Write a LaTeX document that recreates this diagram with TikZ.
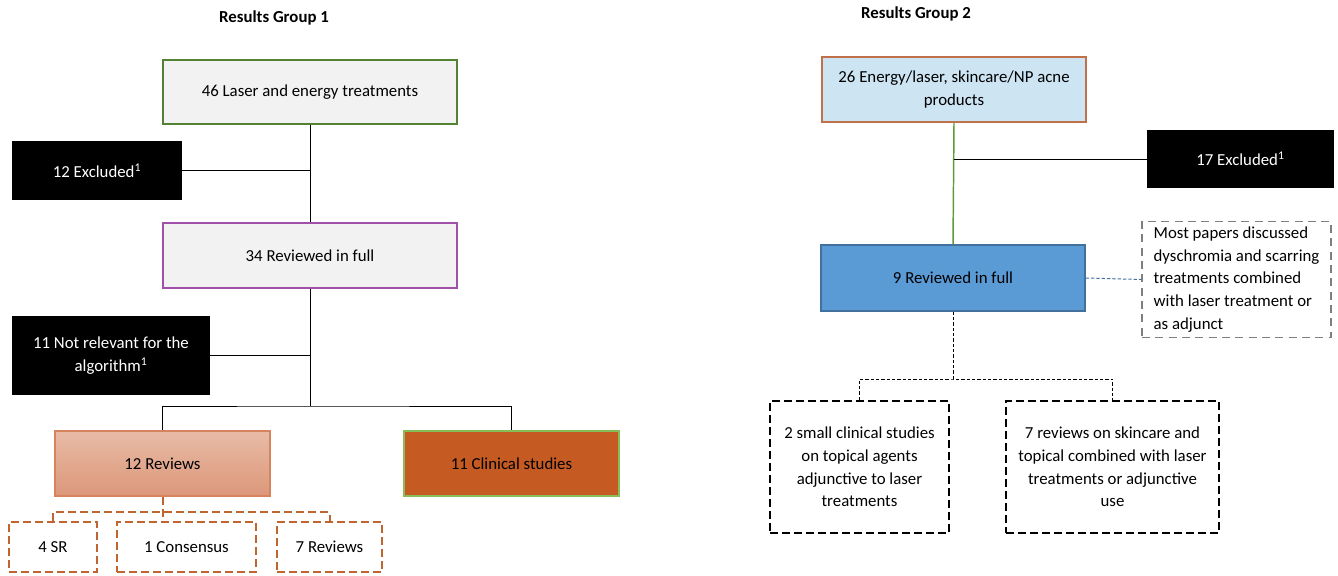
\documentclass[tikz,border=0pt]{standalone}
\usepackage{fontspec}
\setmainfont{Carlito}
\definecolor{gA}{HTML}{F2F2F2}
\definecolor{grnB}{HTML}{548235}
\definecolor{purB}{HTML}{A050A8}
\definecolor{revT}{HTML}{E8BBA6}
\definecolor{revB}{HTML}{DC977A}
\definecolor{revD}{HTML}{D7835E}
\definecolor{clinF}{HTML}{C55A22}
\definecolor{clinD}{HTML}{86BE5A}
\definecolor{lbF}{HTML}{CDE4F3}
\definecolor{lbD}{HTML}{C0714A}
\definecolor{dbF}{HTML}{5B9BD5}
\definecolor{dbD}{HTML}{41719C}
\definecolor{grnL}{HTML}{5E9A35}
\definecolor{orD}{HTML}{C0652F}
\definecolor{grayD}{HTML}{7F7F7F}
\begin{document}
\begin{tikzpicture}[x=0.75pt,y=-0.75pt,
  every node/.style={font=\fontsize{12.6}{17}\selectfont, inner sep=2pt},
  basebox/.style={draw, align=center, line width=0.9pt},
  blackbox/.style={basebox, fill=black, draw=black, text=white},
  orbox/.style={draw=orD, line width=1.5pt, dash pattern=on 6pt off 3pt, align=center, minimum height=37.5pt},
  bkbox/.style={draw=black, line width=1.5pt, dash pattern=on 6pt off 3pt, align=center, minimum height=99pt},
  conn/.style={draw=black, line width=0.75pt},
  orconn/.style={draw=orD, line width=1.5pt, dash pattern=on 6pt off 3pt},
  bkdash/.style={draw=black, line width=0.75pt, dash pattern=on 2.5pt off 1.5pt},
  title/.style={font=\fontsize{12.6}{17}\selectfont\bfseries}
]
\useasboundingbox (0,0) rectangle (1338,575);
% Titles
\node[title] (t1) at (274,18) {Results Group 1};
\node[title] (t2) at (916,14) {Results Group 2};
% Group 1
\node[basebox, fill=gA, draw=grnB, minimum width=220.5pt, minimum height=48pt] (A) at (310,92) {46 Laser and energy treatments};
\node[blackbox, minimum width=126pt, minimum height=42.75pt] (X1) at (97,170.5) {12 Excluded\textsuperscript{1}};
\node[basebox, fill=gA, draw=purB, minimum width=220.5pt, minimum height=48.75pt] (B) at (310,255.5) {34 Reviewed in full};
\node[blackbox, minimum width=147pt, minimum height=57.75pt] (X2) at (111,355.5) {11 Not relevant for the\\algorithm\textsuperscript{1}};
\node[basebox, top color=revT, bottom color=revB, draw=revD, minimum width=161.25pt, minimum height=48.75pt] (R) at (162.5,463.5) {12 Reviews};
\node[basebox, fill=clinF, draw=clinD, minimum width=161.25pt, minimum height=48.75pt] (C1) at (511.5,463.5) {11 Clinical studies};
\node[orbox, minimum width=66pt] (SR) at (53,547) {4 SR};
\node[orbox, minimum width=104.25pt] (CO) at (186.5,547) {1 Consensus};
\node[orbox, minimum width=78.75pt] (R7) at (329.5,547) {7 Reviews};
\coordinate (j1) at (310,406);
\draw[conn] (A.south) -- (B.north);
\draw[conn] (X1.east) -- (X1.east -| A.south);
\draw[conn] (B.south) -- (j1);
\draw[conn] (X2.east) -- (X2.east -| B.south);
\draw[conn] (R.north) |- (j1) -| (C1.north);
\draw[orconn] (R.south) -- (R.south |- CO.north);
\draw[orconn] (SR.north) -- ++(0,-9) -| (R7.north);
% Group 2
\node[basebox, fill=lbF, draw=lbD, line width=1.2pt, minimum width=198pt, minimum height=48.75pt] (C) at (954,89.5) {26 Energy/laser, skincare/NP acne\\products};
\node[blackbox, minimum width=138.75pt, minimum height=42pt] (X3) at (1240.5,159) {17 Excluded\textsuperscript{1}};
\node[basebox, fill=dbF, draw=dbD, minimum width=198pt, minimum height=49.5pt] (D) at (953,278) {9 Reviewed in full};
\node[draw=grayD, line width=1.1pt, dash pattern=on 6pt off 4pt, align=left, minimum width=141.75pt, minimum height=84.75pt, inner sep=4pt] (N) at (1236.5,279.5) {Most papers discussed\\dyschromia and scarring\\treatments combined\\with laser treatment or\\as adjunct};
\node[bkbox, minimum width=134.25pt] (E) at (859.5,467) {2 small clinical studies\\on topical agents\\adjunctive to laser\\treatments};
\node[bkbox, minimum width=159.75pt] (F) at (1112.5,467) {7 reviews on skincare and\\topical combined with laser\\treatments or adjunctive\\use};
\coordinate (j2) at (953,379);
\draw[draw=grnL, line width=1.1pt] (C.south) -- (D.north);
\draw[conn] (X3.west) -- (X3.west -| C.south);
\draw[draw=dbD, line width=0.75pt, dash pattern=on 2.5pt off 1.5pt] (D.east) -- (N.west);
\draw[bkdash] (D.south) -- (j2);
\draw[bkdash] (E.north) |- (j2) -| (F.north);
\end{tikzpicture}
\end{document}
